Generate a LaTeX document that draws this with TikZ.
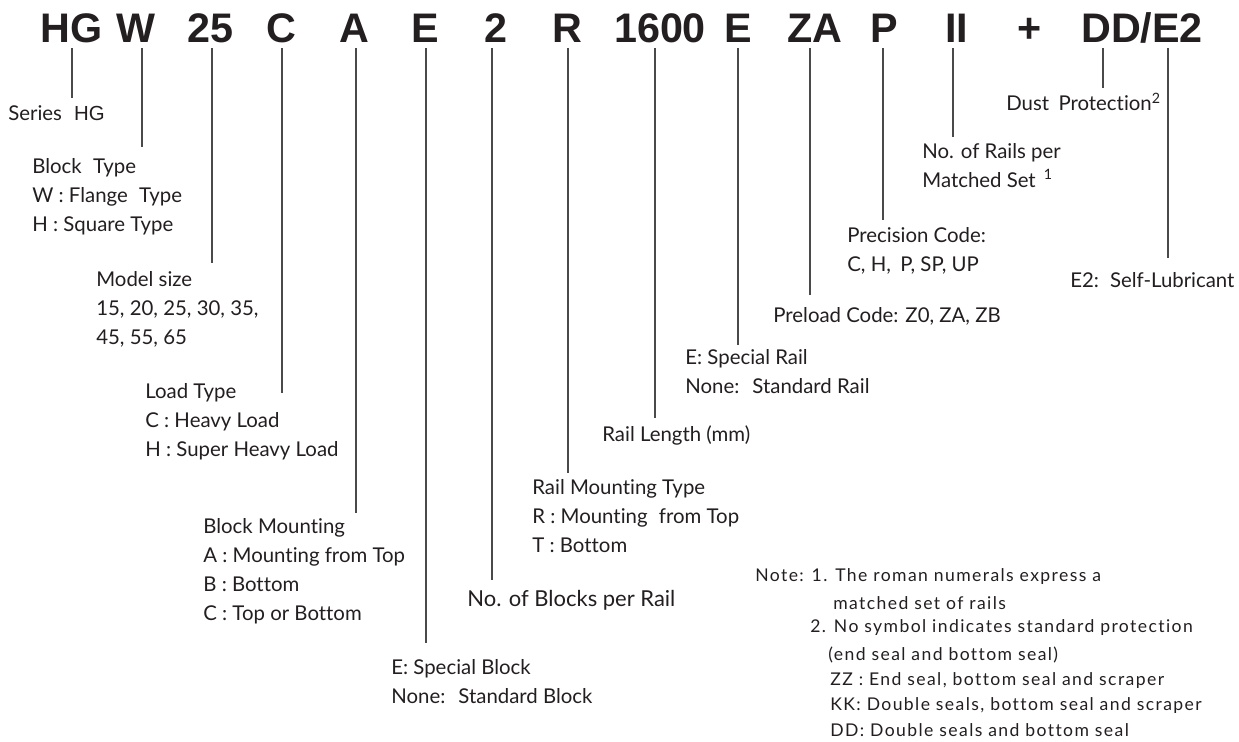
\documentclass[tikz,border=0pt]{standalone}
\usepackage{fontspec}
\setmainfont{Lato}[Ligatures=NoCommon]
\newfontfamily\codefont{Liberation Sans}
\newfontfamily\hgfont{Liberation Sans}
\newfontfamily\notefont[LetterSpace=8,Ligatures=NoCommon]{Lato}
\definecolor{ink}{HTML}{231F20}
\definecolor{linec}{HTML}{4A4A4A}
\begin{document}
\begin{tikzpicture}[x=0.02cm,y=-0.02cm,
  code/.style={font=\codefont\bfseries\fontsize{23.5}{23.5}\selectfont, text=ink, inner sep=0, anchor=base},
  lbl/.style={font=\fontsize{11.6}{16.5}\selectfont, text=ink, inner sep=0, anchor=north west, align=left},
  big/.style={font=\fontsize{12.5}{16.5}\selectfont, text=ink, inner sep=0, anchor=west},
  note/.style={font=\notefont\fontsize{10}{14}\selectfont, text=ink, inner sep=0, anchor=west},
  conn/.style={draw=linec, line width=0.7pt}]
\useasboundingbox[fill=white] (0,0) rectangle (1239,741);

% code row
\node[code] (cHG)   at (71.5,42) {HG};
\node[code] (cW)    at (136,42)  {W};
\node[code] (c25)   at (210.5,42){25};
\node[code] (cC)    at (281,42)  {C};
\node[code] (cA)    at (354,42)  {A};
\node[code] (cE)    at (425,42)  {E};
\node[code] (c2)    at (496,42)  {2};
\node[code] (cR)    at (567.5,42){R};
\node[code] (c1600) at (660,42)  {1600};
\node[code] (cE2)   at (738,42)  {E};
\node[code] (cZA)   at (815,42)  {ZA};
\node[code] (cP)    at (884,42)  {P};
\node[code] (cII)   at (956.5,42){II};
\node[code] (cplus) at (1030,42) {+};
\node[code] (cDD)   at (1142,42) {DD/E2};

% labels
\node[lbl,anchor=west] (lSeries) at (8,113) {Series\hspace{0.6em}{\hgfont HG}};
\node[lbl] (lBlock) at (32,158) {Block\hspace{0.3em} Type\\W : Flange\hspace{0.3em} Type\\H : Square Type};
\node[lbl] (lModel) at (96,271) {Model size\\15, 20, 25, 30, 35,\\45, 55, 65};
\node[lbl] (lLoad) at (145,383) {Load Type\\C : Heavy Load\\H : Super Heavy Load};
\node[lbl] (lMount) at (203,518) {Block Mounting\\A : Mounting from Top\\B : Bottom\\C : Top or Bottom};
\node[lbl] (lSpecB) at (391,659) {E: Special Block\\None:\hspace{0.3em} Standard Block};
\node[big] (lBlocks) at (467,600) {No. of Blocks per Rail};
\node[lbl] (lRailM) at (532,479) {Rail Mounting Type\\R : Mounting\hspace{0.3em} from Top\\T : Bottom};
\node[lbl,anchor=west] (lLen) at (602,435) {Rail Length (mm)};
\node[lbl] (lSpecR) at (685,349) {E: Special Rail\\None:\hspace{0.3em} Standard Rail};
\node[lbl,anchor=west] (lPre) at (773,316) {Preload Code: Z0, ZA, ZB};
\node[lbl] (lPrec) at (847,227) {Precision Code:\\C, H,\hspace{0.2em} P, SP, UP};
\node[lbl] (lRails) at (922,143) {No. of Rails per\\Matched Set\hspace{0.4em}\textsuperscript{1}};
\node[lbl,anchor=west] (lDust) at (1006,102) {Dust\hspace{0.2em} Protection\textsuperscript{2}};
\node[lbl,anchor=west] (lLub) at (1070,280) {E2:\hspace{0.2em} Self-Lubricant};

% note
\node[note] (n1) at (755,577) {Note: 1. The roman numerals express a};
\node[note] (n2) at (833,603) {matched set of rails};
\node[note] (n3) at (810,628) {2. No symbol indicates standard protection};
\node[note] (n4) at (828,655) {(end seal and bottom seal)};
\node[note] (n5) at (830,681) {ZZ : End seal, bottom seal and scraper};
\node[note] (n6) at (830,706) {KK: Double seals, bottom seal and scraper};
\node[note] (n7) at (830,730) {DD: Double seals and bottom seal};

% connectors
\foreach \n/\x/\yb/\yt in {HG/72/98/48, W/142/147/48, 25/212/263/48, C/282/393/48,
  A/356/513/48, E/426/643/48, 2/492/580/48, R/568/473/48, 1600/655/418/48,
  E2/738/345/48, ZA/810/295/48, P/883/220/48, II/953/137/48, DD/1103/88/48, L/1168/258/48} {
  \coordinate (t\n) at (\x,\yt);
  \coordinate (b\n) at (\x,\yb);
  \draw[conn] (t\n) -- (b\n);
}
\end{tikzpicture}
\end{document}
